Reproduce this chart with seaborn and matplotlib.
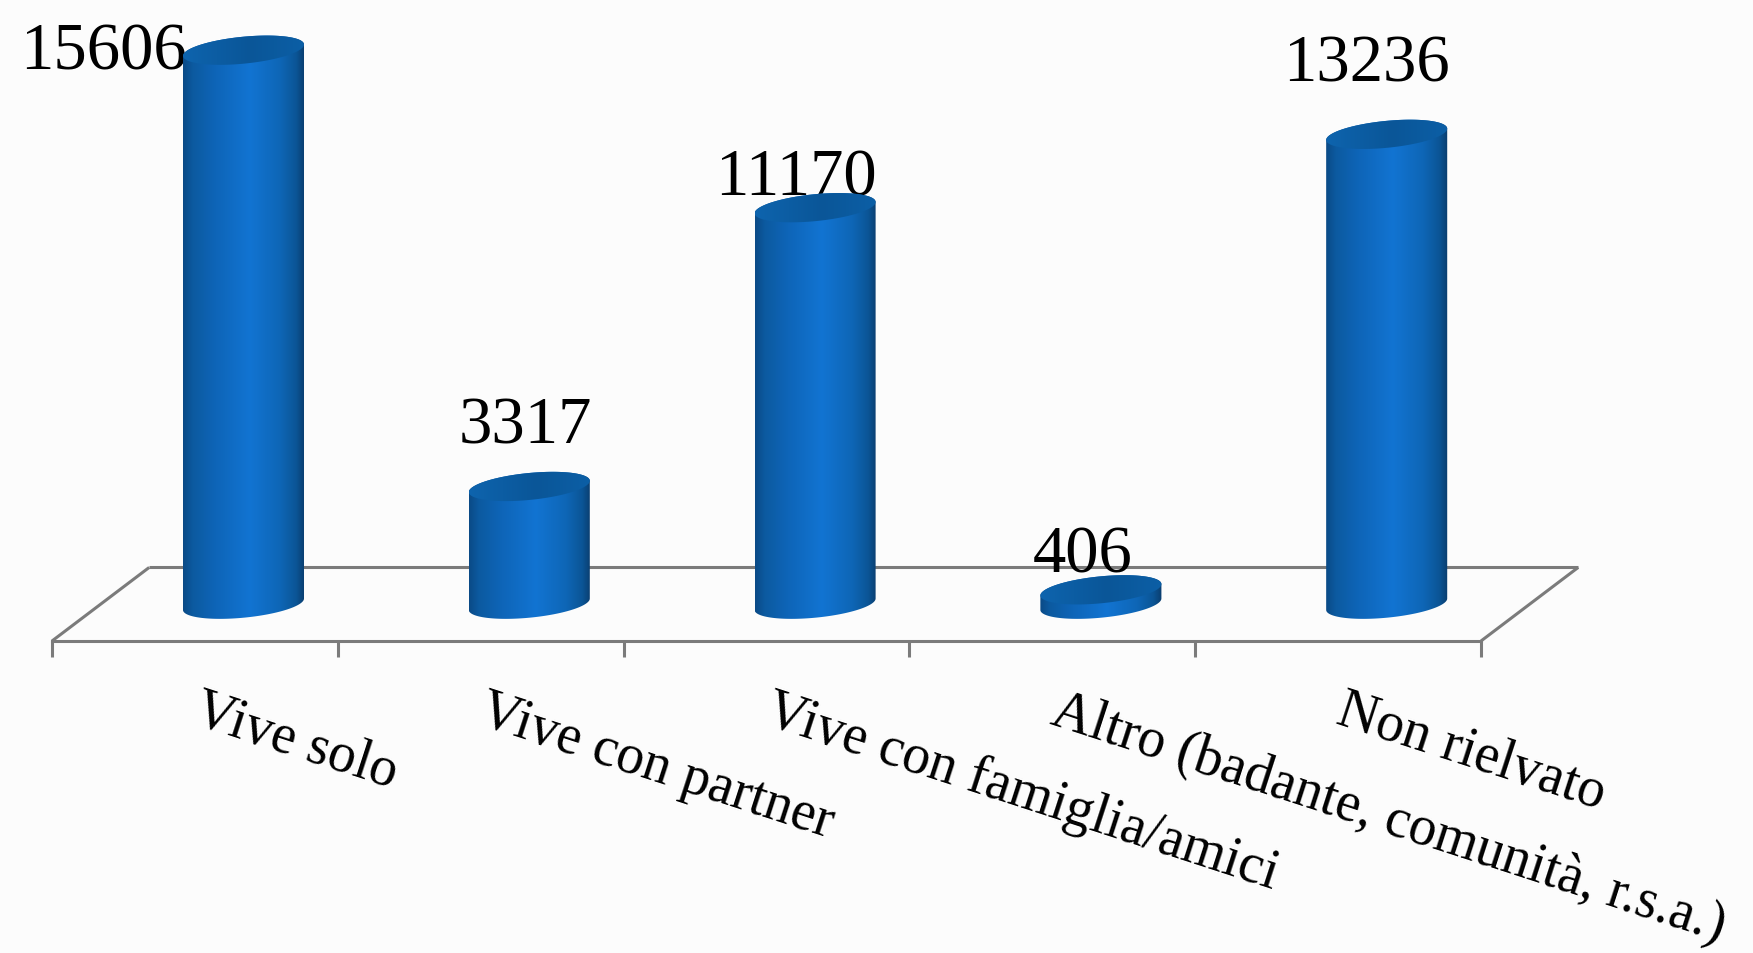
import numpy as np
import matplotlib
matplotlib.use("Agg")
import matplotlib.pyplot as plt
import seaborn as sns
from matplotlib.colors import LinearSegmentedColormap
from matplotlib.patches import Polygon
from matplotlib.ticker import FixedLocator
from matplotlib.transforms import ScaledTranslation

categories = ["Vive solo", "Vive con partner", "Vive con famiglia/amici",
              "Altro (badante, comunità, r.s.a.)", "Non rielvato"]
values = [15606, 3317, 11170, 406, 13236]

# label nudges in pixels relative to the top of each bar
label_dx = [-140, -4, -19, -18, -20]
label_dy = [-2, 60, 30, 35, 70]

W, H, DPI = 1753, 954, 100
BG = "#fcfcfc"
LINE = "#7b7b7b"
FONT = "Liberation Serif"

sns.set_theme(style="white")
plt.rcParams["font.family"] = [FONT, "DejaVu Sans"]

fig = plt.figure(figsize=(W / DPI, H / DPI), dpi=DPI, facecolor=BG)
left, right, bottom = 52, 1481, 642
ax = fig.add_axes([left / W, (H - bottom) / H, (right - left) / W, bottom / H])
ax.set_facecolor("none")

sns.barplot(x=categories, y=values, color="#1273d0", width=0.4235, saturation=1,
            ax=ax, zorder=3)

XLIM = (-0.67, 4.33)
YLIM = (-1036, 17048)
DEPTH = 1036
A = 160   # tilt of the ellipses, value units
B = 380   # half-height of the ellipses, value units

side_cmap = LinearSegmentedColormap.from_list(
    "side", [(0, "#0a4a86"), (0.08, "#0c5aa0"), (0.27, "#0e65b8"), (0.55, "#1274d2"),
             (0.8, "#0e66b6"), (0.93, "#0b5596"), (1, "#0a3d6e")])
top_cmap = LinearSegmentedColormap.from_list(
    "top", [(0, "#0e64ae"), (0.55, "#0a5698"), (1, "#0c5fa6")])
grad = np.linspace(0, 1, 256).reshape(1, -1)
t_low = np.linspace(np.pi, 2 * np.pi, 80)
t_up = np.linspace(0, np.pi, 80)
t_all = np.linspace(0, 2 * np.pi, 160)

for bar, val in zip(ax.patches, values):
    x0, w = bar.get_x(), bar.get_width()
    cx, rx = x0 + w / 2, w / 2
    bar.set_visible(False)

    def ell(t, yc):
        return np.column_stack([cx + rx * np.cos(t), yc + A * np.cos(t) + B * np.sin(t)])

    side = Polygon(np.vstack([ell(t_low, 0), ell(t_up, val)]), closed=True,
                   transform=ax.transData, facecolor="none", edgecolor="none")
    ax.add_patch(side)
    im = ax.imshow(grad, cmap=side_cmap, aspect="auto", zorder=3,
                   extent=(x0, x0 + w, -800, val + 800))
    im.set_clip_path(side)

    face = Polygon(ell(t_all, val), closed=True, transform=ax.transData,
                   facecolor="none", edgecolor="none")
    ax.add_patch(face)
    im2 = ax.imshow(grad, cmap=top_cmap, aspect="auto", zorder=4,
                    extent=(x0, x0 + w, val - 800, val + 800))
    im2.set_clip_path(face)

for i, (val, dx, dy) in enumerate(zip(values, label_dx, label_dy)):
    ax.annotate(str(val), xy=(i, val), xytext=(dx, dy), textcoords="offset pixels",
                ha="center", va="center", fontsize=48, color="black", zorder=2,
                annotation_clip=False)

# floor: back edge and the two slanted side edges
shift = 0.34
back = dict(color=LINE, lw=2.2, zorder=1, clip_on=False, solid_capstyle="butt")
ax.plot([XLIM[0] + shift, XLIM[1] + shift], [DEPTH, DEPTH], **back)
ax.plot([XLIM[0], XLIM[0] + shift], [-DEPTH, DEPTH], **back)
ax.plot([XLIM[1], XLIM[1] + shift], [-DEPTH, DEPTH], **back)

ax.set_xlim(*XLIM)
ax.set_ylim(*YLIM)
ax.set_yticks([])
for s in ("top", "left", "right"):
    ax.spines[s].set_visible(False)
ax.spines["bottom"].set_color(LINE)
ax.spines["bottom"].set_linewidth(2.2)

ax.xaxis.set_minor_locator(FixedLocator(np.linspace(XLIM[0], XLIM[1], 6)))
ax.tick_params(axis="x", which="minor", bottom=True, length=11.5, width=2.2, color=LINE)
ax.tick_params(axis="x", which="major", bottom=True, length=0, pad=49, labelsize=40,
               labelcolor="black")
offset = ScaledTranslation(-48 / DPI, 0, fig.dpi_scale_trans)
for lab in ax.get_xticklabels():
    lab.set_rotation(-18)
    lab.set_rotation_mode("anchor")
    lab.set_ha("left")
    lab.set_va("center")
    lab.set_transform(lab.get_transform() + offset)

fig.savefig("out.png", dpi=DPI, facecolor=BG)
